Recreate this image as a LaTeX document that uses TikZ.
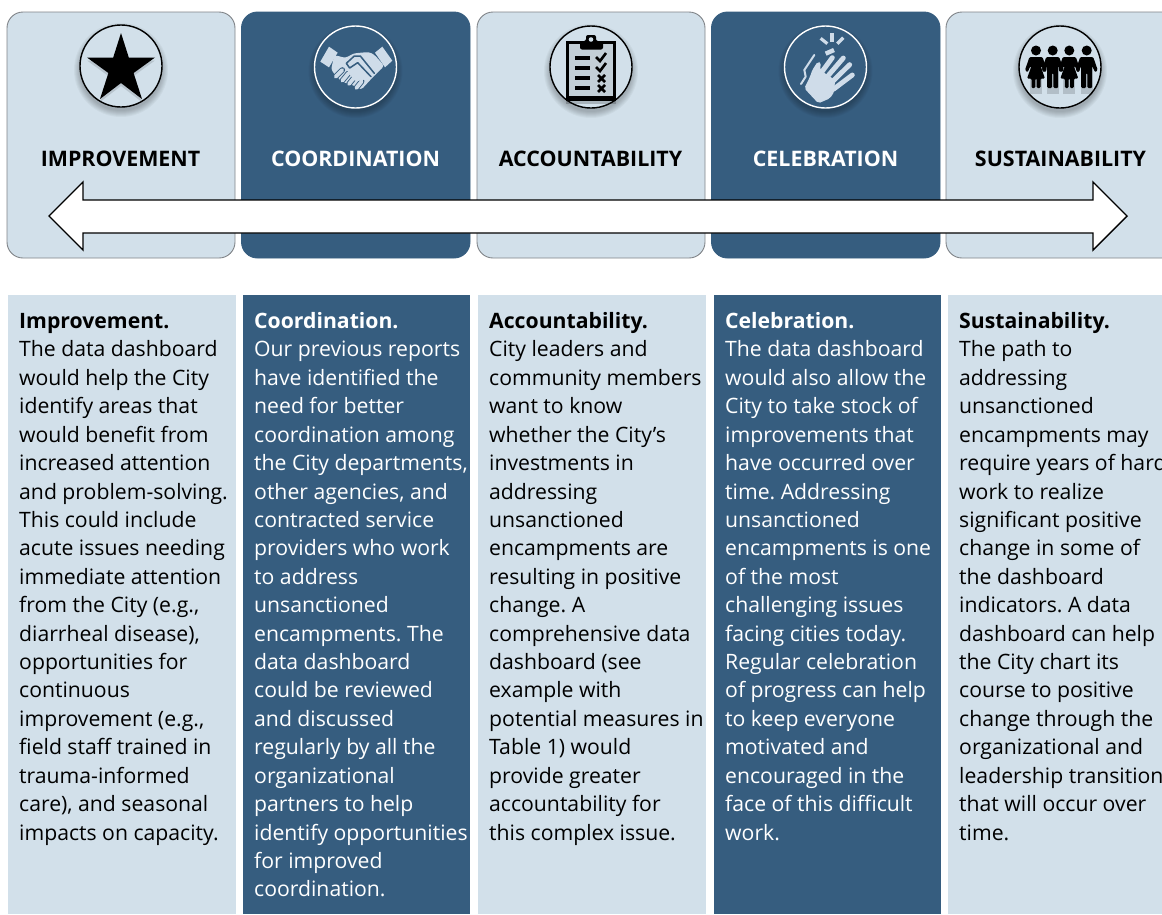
\documentclass[tikz,border=0pt]{standalone}
\usepackage{fontspec}
\setmainfont{Open Sans}
\definecolor{lightpanel}{HTML}{D2E0EA}
\definecolor{darkpanel}{HTML}{365D7F}
\definecolor{iconlight}{HTML}{CFDCE9}
\definecolor{edgegray}{HTML}{808488}
\tikzset{
  card/.style={rounded corners=16pt,draw=edgegray,line width=0.9pt},
  cardlight/.style={card,fill=lightpanel},
  carddark/.style={card,draw=darkpanel,fill=darkpanel},
  cardtitle/.style={font=\fontsize{21.4}{24}\selectfont\bfseries,anchor=base},
  panellight/.style={fill=lightpanel},
  paneldark/.style={fill=darkpanel},
  body/.style={font=\fontsize{21.2}{28.42}\selectfont\frenchspacing,anchor=north west,align=left,inner sep=0pt},
  ring/.style={draw,line width=1.4pt}
}
\newcommand{\softshadow}[2]{%
  \foreach \r in {47,46,...,41}{\fill[black,opacity=0.035] (#1,#2+4) circle (\r pt);}%
}
\newcommand{\firstline}{\rule{0pt}{18.3pt}}
\newcommand{\personarms}[1]{(#1-6.5,57) -- (#1+6.5,57) -- (#1+11,70) -- (#1+8.5,72.5) -- (#1+5.5,66)}
\begin{document}
\begin{tikzpicture}[x=1pt,y=-1pt]
\useasboundingbox (0,0) rectangle (1162,914);
\fill[white] (0,0) rectangle (1162,914);
% top cards
\draw[cardlight] (7,12) rectangle (235,258);
\draw[carddark] (241.5,12) rectangle (470,258);
\draw[cardlight] (477,12) rectangle (705,258);
\draw[carddark] (711.5,12) rectangle (940,258);
\draw[cardlight] (946,12) rectangle (1180,258);
% panels
\fill[panellight] (8,295) rectangle (236,914);
\fill[paneldark] (243,295) rectangle (470,914);
\fill[panellight] (478,295) rectangle (706,914);
\fill[paneldark] (714,295) rectangle (941,914);
\fill[panellight] (948,295) rectangle (1162,914);
% icon 1
\softshadow{121}{66}
\draw[ring,fill=lightpanel] (121,66) circle (41);
\fill[black,opacity=0.12] (121,36) -- (128.8,60.5) -- (155,60.5) -- (133.6,76) -- (142,102) -- (121,86) -- (100,102) -- (108.4,76) -- (87,60.5) -- (113.2,60.5) -- cycle;
\fill (121,33) -- (128.8,57.5) -- (155,57.5) -- (133.6,73) -- (142,99) -- (121,83) -- (100,99) -- (108.4,73) -- (87,57.5) -- (113.2,57.5) -- cycle;
% icon 2: handshake, drawn in the 3x crop units
\softshadow{355.5}{67}
\draw[ring,draw=white,fill=darkpanel] (355.5,67) circle (41);
\begin{scope}[shift={(305,20)},x=0.3333pt,y=-0.3333pt]
\fill[iconlight] (46,125) -- (72,80) -- (98,98) -- (72,142) -- cycle;
\fill[iconlight] (210,98) -- (232,80) -- (262,122) -- (240,142) -- cycle;
\fill[iconlight,rounded corners=3pt] (88,105) -- (122,114) -- (146,100) -- (192,96) -- (208,104) -- (238,138) -- (205,170) -- (168,210) -- (150,198) -- (110,185) -- (78,150) -- cycle;
\foreach \a/\b/\c/\d in {92/170/112/150,112/182/130/160,132/192/150/170,154/204/170/184}{
  \draw[darkpanel,line width=5.6pt,line cap=round] (\a,\b) -- (\c,\d);
  \draw[iconlight,line width=3.8pt,line cap=round] (\a,\b) -- (\c,\d);
}
\fill[iconlight,rounded corners=2pt] (118,140) -- (165,105) -- (200,140) -- (195,175) -- (150,185) -- cycle;
\draw[darkpanel,line width=1.5pt,line join=round,line cap=round,fill=iconlight] (208,160) -- (166,108) -- (148,108) -- (124,130) -- (134,144) -- (158,128) -- (198,170);
\end{scope}
% icon 3
\softshadow{591}{67}
\draw[ring,fill=lightpanel] (591,67) circle (41);
\fill[black,opacity=0.2] (566,46) rectangle (616,104);
\draw[line width=3.3pt,fill=lightpanel!82!gray] (567.5,42.5) rectangle (614.5,99);
\fill[black] (566,96) rectangle (616,100.5);
\fill[rounded corners=2pt] (580,49.5) -- (580,41) -- (586,41) -- (586,35) -- (596,35) -- (596,41) -- (603,41) -- (603,49.5) -- cycle;
\fill[lightpanel] (591,39.5) circle (2.3);
\foreach \y in {58,68,78,88}{\fill (575,\y-2.2) rectangle (590,\y+2.2);}
\draw[line width=2.6pt] (596,57) -- (600,61) -- (606,53);
\draw[line width=2.6pt] (596,67) -- (600,71) -- (606,63);
\draw[line width=2.6pt] (598,75) -- (605,82) (605,75) -- (598,82);
\draw[line width=2.6pt] (598,85) -- (605,92) (605,85) -- (598,92);
% icon 4: clapping hands, drawn in the 3x crop units
\softshadow{825.5}{67}
\draw[ring,draw=white,fill=darkpanel] (825.5,67) circle (41);
\begin{scope}[shift={(775,20)},x=0.3333pt,y=-0.3333pt,iconlight]
\fill (165,38) rectangle (177,65);
\draw[line width=3.2pt] (137,55) -- (157,71) (205,53) -- (187,71);
\draw[line width=4.4pt] (152,101) -- (177,90);
\fill[rounded corners=2pt] (130,250) -- (88,205) -- (105,170) -- (112,150) -- (128,125) -- (138,127) -- (135,150) -- (180,180) -- (178,215) -- (165,235) -- cycle;
\foreach \a/\b/\c/\d in {130/170/172/113,150/178/205/114,165/192/224/134,175/208/232/165}{
  \draw[line width=4.9pt,line cap=round] (\a,\b) -- (\c,\d);
}
\draw[line width=2pt,line cap=round,line join=round] (118,105) -- (88,150) -- (92,170) -- (78,192);
\end{scope}
% icon 5
\softshadow{1060}{67}
\draw[ring,fill=lightpanel] (1060,67) circle (41);
\foreach \x/\k in {1036/0,1052.7/1,1069.3/0,1086.7/1}{
  \fill[black,opacity=0.15] (\x-6,60) rectangle (\x+6,94);
}
\foreach \x/\k in {1036/0,1052.7/1,1069.3/0,1086.7/1}{
  \fill (\x,50.5) circle (5);
  \ifnum\k=1
    \fill[rounded corners=1.2pt] \personarms{\x} -- (\x+5.5,88) -- (\x+0.7,88) -- (\x+0.7,73) -- (\x-0.7,73) -- (\x-0.7,88) -- (\x-5.5,88) -- (\x-5.5,66) -- (\x-8.5,72.5) -- (\x-11,70) -- cycle;
  \else
    \fill[rounded corners=1.2pt] \personarms{\x} -- (\x+4.5,66) -- (\x+9,78.5) -- (\x+4.5,78.5) -- (\x+4.5,88) -- (\x+0.7,88) -- (\x+0.7,78.5) -- (\x-0.7,78.5) -- (\x-0.7,88) -- (\x-4.5,88) -- (\x-4.5,78.5) -- (\x-9,78.5) -- (\x-4.5,66) -- (\x-5.5,66) -- (\x-8.5,72.5) -- (\x-11,70) -- cycle;
  \fi
}
% arrow
\draw[black,fill=white,line width=1.4pt,line join=miter] (49,216) -- (83,182) -- (83,200) -- (1093,200) -- (1093,182) -- (1127,216) -- (1093,250) -- (1093,233) -- (83,233) -- (83,250) -- cycle;
% card titles
\node[cardtitle] (t1) at (120.5,166) {IMPROVEMENT};
\node[cardtitle,text=white] (t2) at (355.5,166) {COORDINATION};
\node[cardtitle] (t3) at (590.5,166) {ACCOUNTABILITY};
\node[cardtitle,text=white] (t4) at (825.5,166) {CELEBRATION};
\node[cardtitle] (t5) at (1060.5,166) {SUSTAINABILITY};
% texts
\node[body] (b1) at (19,310) {\firstline\textbf{Improvement.}\\The data dashboard\\would help the City\\identify areas that\\would benefit from\\increased attention\\and problem-solving.\\This could include\\acute issues needing\\immediate attention\\from the City (e.g.,\\diarrheal disease),\\opportunities for\\continuous\\improvement (e.g.,\\field staff trained in\\trauma-informed\\care), and seasonal\\impacts on capacity.};
\node[body,text=white] (b2) at (254,310) {\firstline\textbf{Coordination.}\\Our previous reports\\have identified the\\need for better\\coordination among\\the City departments,\\other agencies, and\\contracted service\\providers who work\\to address\\unsanctioned\\encampments. The\\data dashboard\\could be reviewed\\and discussed\\regularly by all the\\organizational\\partners to help\\identify opportunities\\for improved\\coordination.};
\node[body] (b3) at (489,310) {\firstline\textbf{Accountability.}\\City leaders and\\community members\\want to know\\whether the City’s\\investments in\\addressing\\unsanctioned\\encampments are\\resulting in positive\\change. A\\comprehensive data\\dashboard (see\\example with\\potential measures in\\Table 1) would\\provide greater\\accountability for\\this complex issue.};
\node[body,text=white] (b4) at (725,310) {\firstline\textbf{Celebration.}\\The data dashboard\\would also allow the\\City to take stock of\\improvements that\\have occurred over\\time. Addressing\\unsanctioned\\encampments is one\\of the most\\challenging issues\\facing cities today.\\Regular celebration\\of progress can help\\to keep everyone\\motivated and\\encouraged in the\\face of this difficult\\work.};
\node[body] (b5) at (959,310) {\firstline\textbf{Sustainability.}\\The path to\\addressing\\unsanctioned\\encampments may\\require years of hard\\work to realize\\significant positive\\change in some of\\the dashboard\\indicators. A data\\dashboard can help\\the City chart its\\course to positive\\change through the\\organizational and\\leadership transition\\that will occur over\\time.};
\end{tikzpicture}
\end{document}
